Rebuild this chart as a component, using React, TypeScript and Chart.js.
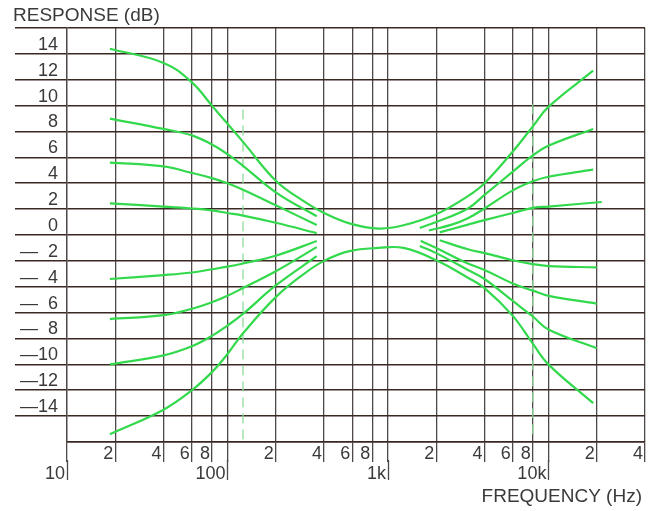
import React, { useEffect, useRef } from "react";
import { Chart, registerables } from "chart.js";

Chart.register(...registerables);

// ---- axis ticks ----
const xTickValues = [10, 20, 40, 60, 80, 100, 200, 400, 600, 800, 1000, 2000, 4000, 6000, 8000, 10000, 20000, 40000];
const xMinorLabels = ["", "2", "4", "6", "8", "", "2", "4", "6", "8", "", "2", "4", "6", "8", "", "2", "4"];
const xDecadeLabels = ["10", "", "", "", "", "100", "", "", "", "", "1k", "", "", "", "", "10k", "", ""];
const yTickValues = [-16, -14, -12, -10, -8, -6, -4, -2, 0, 2, 4, 6, 8, 10, 12, 14, 16];
const yTickLabels = ["", "\u201414", "\u201412", "\u201410", "\u2014  8", "\u2014  6", "\u2014  4", "\u2014  2", "0", "2", "4", "6", "8", "10", "12", "14", ""];
const yTitle = "RESPONSE (dB)";
const xTitle = "FREQUENCY (Hz)";

// ---- curves: maximum boost / cut (run through the whole band) ----
const fullFreq = [18.5, 40, 60, 80, 100, 125, 200, 300, 400, 575, 875, 1250, 2000, 3150, 4000, 6000, 8000, 10000, 19000];
const maxBoost = [14.4, 13.3, 11.8, 10.0, 8.6, 7.2, 4.2, 2.6, 1.7, 0.9, 0.5, 0.75, 1.6, 3.0, 4.0, 6.45, 8.4, 9.9, 12.7];
const maxCut = [-15.4, -13.5, -12.0, -10.6, -9.2, -7.6, -4.8, -3.0, -2.0, -1.25, -1.0, -1.0, -1.95, -3.3, -4.1, -6.25, -8.4, -10.0, -13.0];

// ---- bass curves ----
const bassFreq = [18.5, 40, 60, 80, 100, 125, 200, 360];
const bassBoost2 = [9.0, 8.2, 7.7, 7.0, 6.25, 5.35, 3.3, 1.45];
const bassBoost3 = [5.6, 5.3, 4.8, 4.4, 4.0, 3.5, 2.3, 0.77];
const bassBoost4 = [2.45, 2.2, 2.05, 1.9, 1.7, 1.5, 0.95, 0.15];
const bassCut1 = [-3.4, -3.1, -2.9, -2.65, -2.45, -2.2, -1.6, -0.47];
const bassCut2 = [-6.5, -6.2, -5.7, -5.2, -4.7, -4.1, -2.8, -0.94];
const bassCut3 = [-10.0, -9.3, -8.6, -7.8, -7.0, -6.1, -3.9, -1.64];

// ---- treble curves ----
const trebleBoost2Freq = [1580, 2000, 3150, 4000, 6000, 8000, 10000, 19000];
const trebleBoost2 = [0.55, 1.0, 2.05, 3.1, 4.9, 6.15, 6.9, 8.2];
const trebleBoost3Freq = [1800, 2500, 3150, 4000, 6000, 8000, 10000, 19000];
const trebleBoost3 = [0.35, 0.8, 1.3, 2.05, 3.45, 4.15, 4.5, 5.05];
const trebleBoost4Freq = [2100, 3150, 4000, 6000, 8000, 10000, 21500];
const trebleBoost4 = [0.2, 0.8, 1.15, 1.7, 2.1, 2.2, 2.55];
const trebleCut4Freq = [2100, 3150, 4000, 6000, 8000, 10000, 20000];
const trebleCut4 = [-0.4, -1.1, -1.4, -1.95, -2.25, -2.4, -2.5];
const trebleCut3Freq = [1600, 2000, 3150, 4000, 6000, 8000, 10000, 20000];
const trebleCut3 = [-0.45, -1.0, -2.2, -2.7, -3.75, -4.3, -4.7, -5.3];
const trebleCut2Freq = [1580, 2000, 3150, 4000, 6000, 8000, 10000, 20000];
const trebleCut2 = [-0.85, -1.4, -2.7, -3.4, -5.1, -6.3, -7.3, -8.75];

// ---- turnover markers (dashed) ----
const turnoverFreq = [125, 8000];
const turnoverTop = [9.7, 10.1];
const turnoverBottom = [-15.8, -15.7];

const GREEN = "#33d94c";
const DASH_GREEN = "#8fd99a";
const GRID_H = "#3a2822";
const GRID_V = "#4e4848";
const TEXT = "#3a3a3a";
const FONT = "'Liberation Sans', Arial, sans-serif";

const pts = (f: number[], v: number[]) => f.map((x, i) => ({ x, y: v[i] }));

const curve = (f: number[], v: number[]) => ({
  data: pts(f, v),
  borderColor: GREEN,
  borderWidth: 2.2,
  pointRadius: 0,
  tension: 0.4,
  fill: false,
});

const decoPlugin = {
  id: "deco",
  afterDraw(chart: any) {
    const { ctx, chartArea, scales } = chart;
    const xs = scales.x;
    ctx.save();
    ctx.strokeStyle = GRID_V;
    ctx.lineWidth = 1.3;
    xTickValues.forEach((v, i) => {
      if (xDecadeLabels[i]) {
        const px = Math.round(xs.getPixelForValue(v)) + 0.5;
        ctx.beginPath();
        ctx.moveTo(px, chartArea.bottom + 18);
        ctx.lineTo(px, chartArea.bottom + 38);
        ctx.stroke();
      }
    });
    ctx.fillStyle = TEXT;
    ctx.font = `19px ${FONT}`;
    ctx.textBaseline = "alphabetic";
    ctx.textAlign = "left";
    ctx.fillText(yTitle, 13, 21);
    ctx.textAlign = "right";
    ctx.fillText(xTitle, 642, 502);
    ctx.restore();
  },
};

export default function App() {
  const ref = useRef<HTMLCanvasElement | null>(null);
  useEffect(() => {
    if (!ref.current) return;
    const datasets: any[] = [
      curve(fullFreq, maxBoost),
      curve(fullFreq, maxCut),
      curve(bassFreq, bassBoost2),
      curve(bassFreq, bassBoost3),
      curve(bassFreq, bassBoost4),
      curve(bassFreq, bassCut1),
      curve(bassFreq, bassCut2),
      curve(bassFreq, bassCut3),
      curve(trebleBoost2Freq, trebleBoost2),
      curve(trebleBoost3Freq, trebleBoost3),
      curve(trebleBoost4Freq, trebleBoost4),
      curve(trebleCut4Freq, trebleCut4),
      curve(trebleCut3Freq, trebleCut3),
      curve(trebleCut2Freq, trebleCut2),
      ...turnoverFreq.map((f, i) => ({
        data: [
          { x: f, y: turnoverTop[i] },
          { x: f, y: turnoverBottom[i] },
        ],
        borderColor: DASH_GREEN,
        borderWidth: 1.3,
        borderDash: [10, 6],
        pointRadius: 0,
        fill: false,
      })),
    ];
    const chart = new Chart(ref.current, {
      type: "line",
      data: { datasets },
      options: {
        animation: false,
        responsive: false,
        devicePixelRatio: 1,
        layout: { padding: { top: 28, right: 16, left: 0, bottom: 0 } },
        plugins: { legend: { display: false }, tooltip: { enabled: false } },
        scales: {
          x: {
            type: "logarithmic",
            min: 10,
            max: 40000,
            afterBuildTicks: (s: any) => {
              s.ticks = xTickValues.map((v) => ({ value: v }));
            },
            afterFit: (s: any) => {
              s.height = 69;
            },
            grid: { color: GRID_V, lineWidth: 1.3, drawTicks: true, tickLength: 20, tickColor: GRID_V },
            border: { display: true, color: GRID_H, width: 1.6 },
            ticks: {
              autoSkip: false,
              maxRotation: 0,
              minRotation: 0,
              align: "end",
              labelOffset: -2,
              padding: -18,
              color: TEXT,
              font: { family: FONT, size: 18, lineHeight: 1.1 },
              callback: (_v: any, i: number) =>
                xDecadeLabels[i] ? ["", xDecadeLabels[i]] : xMinorLabels[i],
            },
          },
          y: {
            type: "linear",
            min: -16,
            max: 16,
            afterBuildTicks: (s: any) => {
              s.ticks = yTickValues.map((v) => ({ value: v }));
            },
            afterFit: (s: any) => {
              s.width = 67;
            },
            grid: {
              color: GRID_H,
              lineWidth: 1.6,
              drawTicks: true,
              tickLength: 52,
              tickColor: (c: any) => (c.tick && c.tick.value === -16 ? "rgba(0,0,0,0)" : GRID_H),
            },
            border: { display: true, color: GRID_V, width: 1.3 },
            ticks: {
              autoSkip: false,
              crossAlign: "near",
              padding: -43,
              labelOffset: -9,
              color: TEXT,
              font: { family: FONT, size: 18 },
              callback: (_v: any, i: number) => yTickLabels[i],
            },
          },
        },
      },
      plugins: [decoPlugin],
    });
    return () => chart.destroy();
  }, []);
  return (
    <div style={{ position: "fixed", left: 0, top: 0, width: 661, height: 511, background: "#fff" }}>
      <canvas ref={ref} width={661} height={511} style={{ display: "block" }} />
    </div>
  );
}
